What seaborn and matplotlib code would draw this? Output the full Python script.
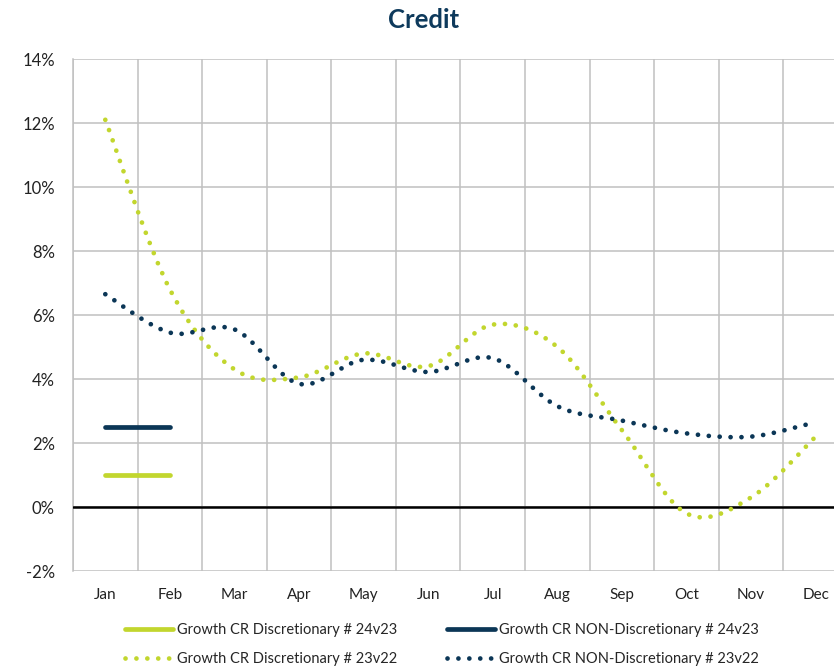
import numpy as np
import pandas as pd
import matplotlib
matplotlib.use("Agg")
import matplotlib.pyplot as plt
import seaborn as sns
from matplotlib.path import Path
from matplotlib.patches import PathPatch
from matplotlib.lines import Line2D
from matplotlib.ticker import FuncFormatter, MultipleLocator

months = ["Jan", "Feb", "Mar", "Apr", "May", "Jun",
          "Jul", "Aug", "Sep", "Oct", "Nov", "Dec"]

# growth rates, percent
disc_24v23 = [1.0, 1.0]
nondisc_24v23 = [2.5, 2.5]
disc_23v22 = [12.1, 6.8, 4.3, 4.05, 4.8, 4.4, 5.7, 5.0, 2.4, -0.2, 0.3, 2.2]
nondisc_23v22 = [6.65, 5.45, 5.55, 3.85, 4.6, 4.22, 4.65, 3.15, 2.7, 2.3, 2.2, 2.65]

labels = ["Growth CR Discretionary # 24v23",
          "Growth CR NON-Discretionary # 24v23",
          "Growth CR Discretionary # 23v22",
          "Growth CR NON-Discretionary # 23v22"]

GREEN = "#C2D62E"
NAVY = "#0B3656"
TITLE = "#0E3A5C"

sns.set_theme(style="white")
plt.rcParams["font.family"] = ["Lato", "DejaVu Sans"]

fig = plt.figure(figsize=(8.34, 6.72), dpi=100)
ax = fig.add_axes([73 / 834, 1 - 571 / 672, 775 / 834, 512 / 672])


def smooth_path(xs, ys):
    """Bezier path through the points with Excel-style smoothing."""
    pts = np.column_stack([xs, ys]).astype(float)
    n = len(pts)
    verts = [pts[0]]
    codes = [Path.MOVETO]
    for i in range(n - 1):
        p0 = pts[max(i - 1, 0)]
        p1 = pts[i]
        p2 = pts[i + 1]
        p3 = pts[min(i + 2, n - 1)]
        c1 = p1 + (p2 - p0) / 6.0
        c2 = p2 - (p3 - p1) / 6.0
        verts += [c1, c2, p2]
        codes += [Path.CURVE4] * 3
    return Path(verts, codes)


dot_style = (0, (0.01, 2.3))
x_all = np.arange(len(months))

for vals, col in [(disc_23v22, GREEN), (nondisc_23v22, NAVY)]:
    patch = PathPatch(smooth_path(x_all, vals), fill=False, edgecolor=col,
                      lw=3.4, linestyle=dot_style, capstyle="round", zorder=4)
    ax.add_patch(patch)

solid = pd.DataFrame({
    "x": list(range(len(disc_24v23))) + list(range(len(nondisc_24v23))),
    "y": disc_24v23 + nondisc_24v23,
    "series": [labels[0]] * len(disc_24v23) + [labels[1]] * len(nondisc_24v23),
})
sns.lineplot(data=solid, x="x", y="y", hue="series",
             palette={labels[0]: GREEN, labels[1]: NAVY},
             lw=3.4, legend=False, ax=ax, zorder=5)
for line in ax.lines:
    line.set_solid_capstyle("round")

ax.axhline(0, color="black", lw=1.8, zorder=3)

ax.set_xlim(-0.5, 11.5)
ax.set_ylim(-2, 14)
ax.yaxis.set_major_locator(MultipleLocator(2))
ax.yaxis.set_major_formatter(FuncFormatter(lambda v, _: f"{v:.0f}%"))
ax.set_xticks(x_all)
ax.set_xticklabels(months)
ax.set_xticks(np.arange(-0.5, 12, 1), minor=True)
ax.grid(False)
ax.grid(True, which="minor", axis="x", color="#C0C0C0", lw=1.1)
ax.grid(True, which="major", axis="y", color="#C0C0C0", lw=1.1)
ax.set_axisbelow(True)
for s in ["top", "right", "bottom"]:
    ax.spines[s].set_visible(False)
ax.spines["left"].set_color("#C0C0C0")
ax.spines["left"].set_linewidth(1.1)
ax.tick_params(axis="both", which="both", length=0, colors="#222222")
ax.tick_params(axis="y", pad=13, labelsize=12)
ax.tick_params(axis="x", pad=12, labelsize=11)
ax.set_xlabel("")
ax.set_ylabel("")

fig.text(0.508, 1 - 20 / 672, "Credit", ha="center", va="center",
         fontsize=18.5, fontweight="bold", color=TITLE)

handles = [
    Line2D([], [], color=GREEN, lw=3.4, solid_capstyle="round"),
    Line2D([], [], color=GREEN, lw=3.4, linestyle=dot_style, dash_capstyle="round"),
    Line2D([], [], color=NAVY, lw=3.4, solid_capstyle="round"),
    Line2D([], [], color=NAVY, lw=3.4, linestyle=dot_style, dash_capstyle="round"),
]
leg_labels = [labels[0], labels[2], labels[1], labels[3]]
fig.legend(handles, leg_labels, ncol=2, loc="upper center",
           bbox_to_anchor=(0.53, 1 - 610 / 672), frameon=False,
           fontsize=10.5, handlelength=3.3, handletextpad=0.3,
           columnspacing=3.4, labelspacing=1.0)

fig.savefig("out.png", dpi=100)
